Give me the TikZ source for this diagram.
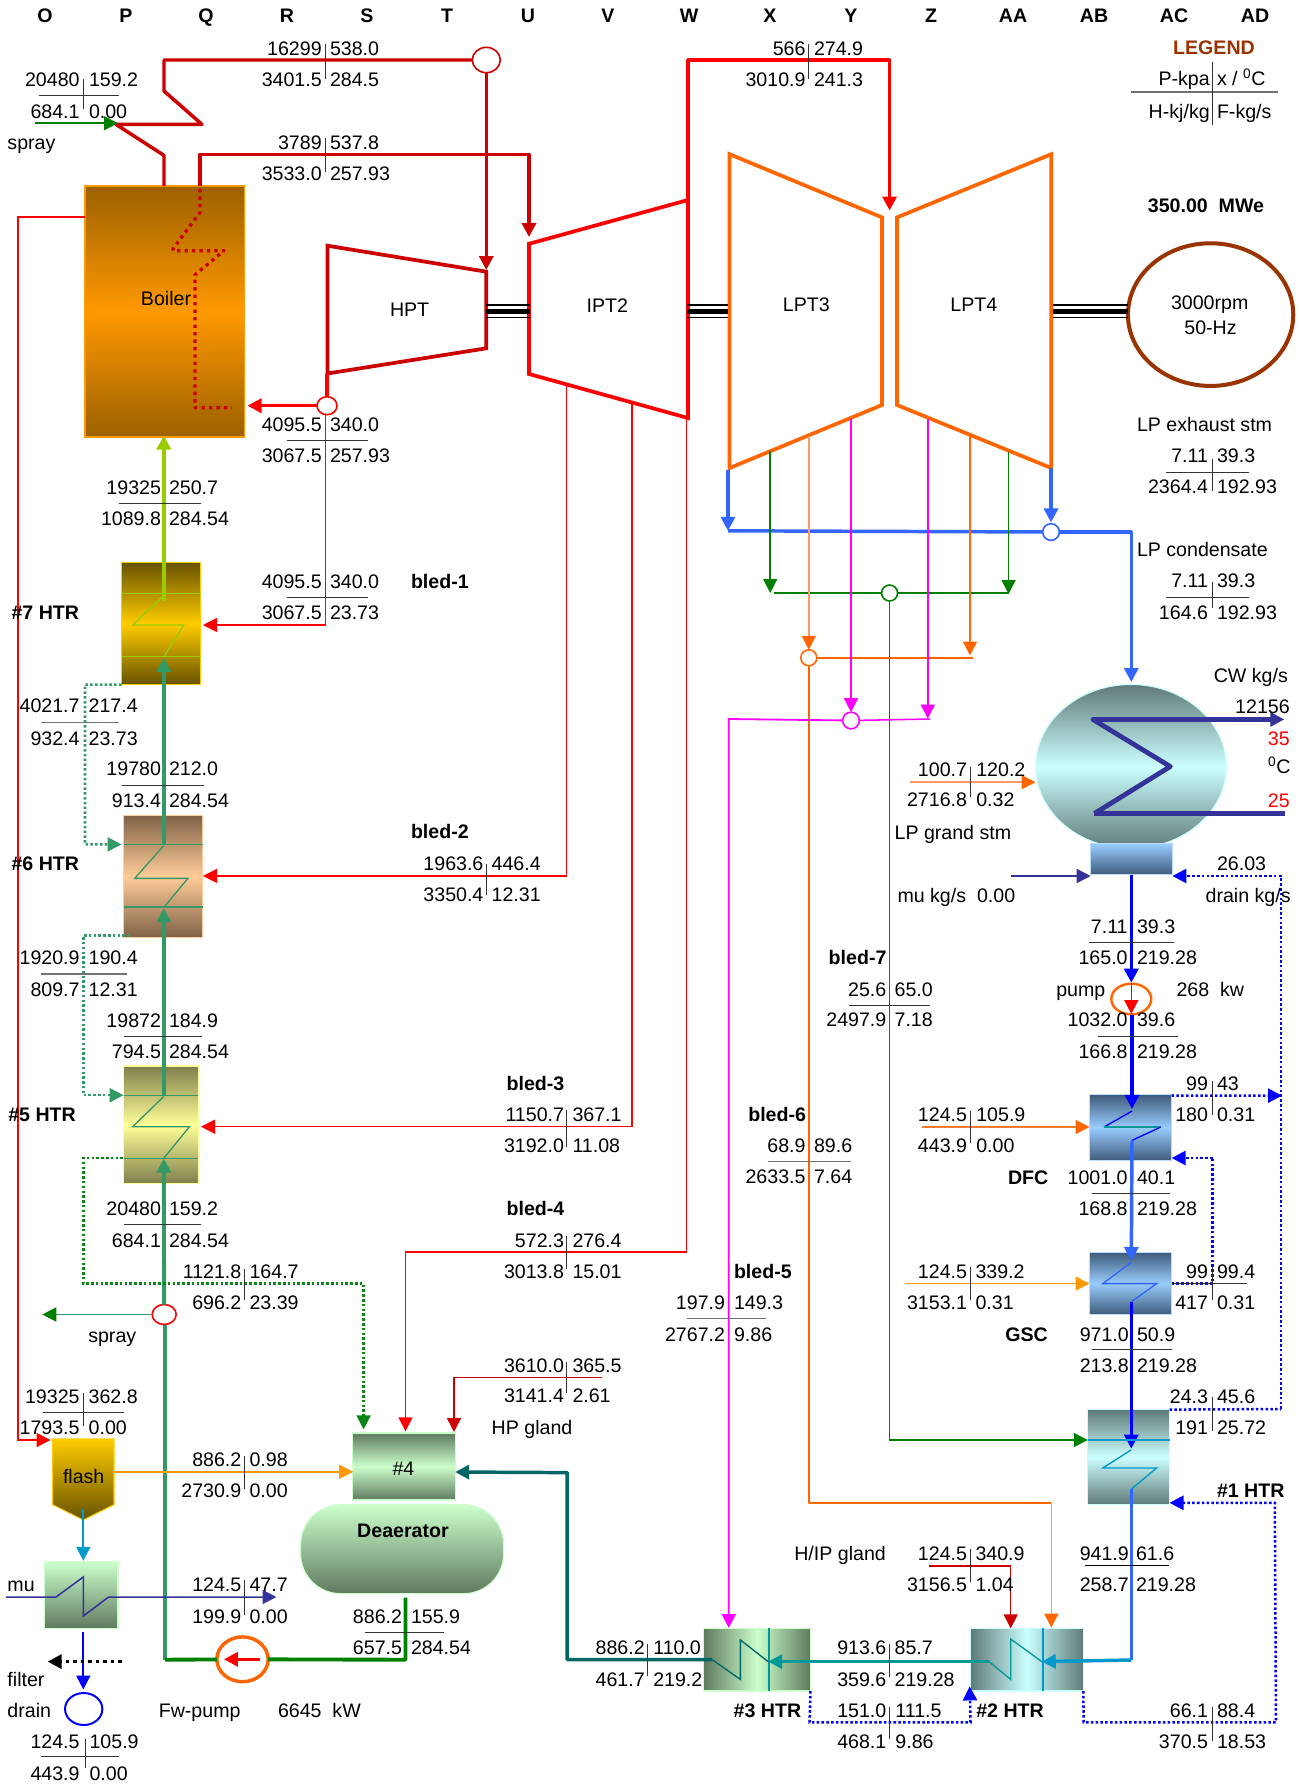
\documentclass[tikz,border=0pt]{standalone}
\usepackage{fontspec}
\setmainfont{Liberation Sans}
\usetikzlibrary{arrows.meta,shapes.geometric}
\definecolor{dred}{HTML}{CC0000}
\definecolor{rd}{HTML}{FF0000}
\definecolor{orng}{HTML}{FF6600}
\definecolor{lorng}{HTML}{FF9966}
\definecolor{amber}{HTML}{FF9900}
\definecolor{lpblue}{HTML}{3366FF}
\definecolor{navy}{HTML}{333399}
\definecolor{blu}{HTML}{0000FF}
\definecolor{grn}{HTML}{008000}
\definecolor{sea}{HTML}{339966}
\definecolor{lime}{HTML}{99CC00}
\definecolor{mag}{HTML}{FF00FF}
\definecolor{teal1}{HTML}{009999}
\definecolor{teal2}{HTML}{006666}
\definecolor{skyb}{HTML}{0099CC}
\definecolor{brn}{HTML}{993300}
\definecolor{cyanl}{HTML}{CCFFFF}
\definecolor{cyand}{HTML}{5F7A78}
\definecolor{grnl}{HTML}{CCFFCC}
\definecolor{grnd}{HTML}{5F7A5F}
\definecolor{bluel}{HTML}{99CCFF}
\definecolor{blued}{HTML}{3F5B7A}
\definecolor{boild}{HTML}{9C6000}
\definecolor{goldl}{HTML}{FFCC00}
\definecolor{goldd}{HTML}{665200}
\definecolor{tanl}{HTML}{FFCC99}
\definecolor{tand}{HTML}{7F6247}
\definecolor{yell}{HTML}{FFFF99}
\definecolor{yeld}{HTML}{7F7F4C}
\tikzset{
  txt/.style={inner sep=0pt,outer sep=0pt,yshift=-5.2pt,font=\fontsize{14.7}{17}\selectfont},
  bld/.style={txt,font=\fontsize{14.7}{17}\selectfont\bfseries},
  rule/.style={draw=black!80,line width=0.7pt},
  grule/.style={draw=black!55,line width=0.9pt},
  box/.style={inner sep=0pt,outer sep=0pt,line width=0.8pt},
  jct/.style={ellipse,draw,fill=white,inner sep=0pt,outer sep=0pt,line width=1.2pt},
  tip/.style={-{Triangle[length=10.5pt,width=10.5pt]}},
  tipc/.style={-{Triangle[length=10.5pt,width=10.5pt,color=#1]}},
  pipe/.style={line width=2.6pt,line join=round},
  mid/.style={line width=1.35pt,line join=round},
  thinl/.style={line width=1.15pt,line join=miter},
  dots/.style={line width=1.9pt,dash pattern=on 1.9pt off 1.7pt},
  coil/.style={line width=1pt,line join=miter},
  turb/.style={line width=2.8pt,line join=miter}
}
\newcommand\eqp[6]{%
  \pgfmathsetmacro\eqw{(#4-#2)*0.75}\pgfmathsetmacro\eqh{(#5-#3)*0.75}%
  \pgfmathsetmacro\eqx{(#2+#4)/2}\pgfmathsetmacro\eqy{(#3+#5)/2}%
  \node[box,minimum width=\eqw pt,minimum height=\eqh pt,#6] (#1) at (\eqx,\eqy) {};}
\newcommand\vb[9]{%
  \node[txt,anchor=base east] (#1a) at (#2,#4) {#6};
  \node[txt,anchor=base west] (#1b) at (#3,#4) {#7};
  \node[txt,anchor=base east] (#1c) at (#2,#5) {#8};
  \node[txt,anchor=base west] (#1d) at (#3,#5) {#9};}
\newcommand\lb[4]{\node[txt,anchor=base west] (#1) at (#2,#3) {#4};}
\newcommand\lbc[4]{\node[txt,anchor=base] (#1) at (#2,#3) {#4};}
\newcommand\bb[4]{\node[bld,anchor=base west] (#1) at (#2,#3) {#4};}
\newcommand\bc[4]{\node[bld,anchor=base] (#1) at (#2,#3) {#4};}
\newcommand\hr[3]{\draw[rule] (#1,#3) -- (#2,#3);}
\newcommand\vr[3]{\draw[rule] (#1,#2) -- (#1,#3);}
\begin{document}
\begin{tikzpicture}[x=0.75pt,y=-0.75pt]
\useasboundingbox (0,0) rectangle (1300,1786);
\fill[white] (0,0) rectangle (1300,1786);

% ---------- equipment
\eqp{boiler}{85}{186}{244.6}{437}{draw=amber,top color=boild,bottom color=boild,middle color=amber}
\eqp{htrseven}{121.5}{562.4}{200.7}{684.7}{draw=goldl,top color=goldd,bottom color=goldd,middle color=goldl}
\eqp{htrsix}{123.5}{815.3}{202.7}{937.6}{draw=tanl,top color=tand,bottom color=tand,middle color=tanl}
\eqp{htrfive}{123.5}{1066}{198.2}{1183.5}{draw=yell,top color=yeld,bottom color=yeld,middle color=yell}
\eqp{boxfour}{352.4}{1433}{455.2}{1500}{draw=grnl,top color=grnd,bottom color=grnd,middle color=grnl}
\eqp{deaer}{300.6}{1504.7}{503.7}{1593.6}{draw=grnl,rounded corners=30pt,top color=grnl,bottom color=grnd}
\eqp{cooler}{44.4}{1562}{118}{1628.4}{draw=grnl,top color=grnl,bottom color=grnd}
\shade[top color=goldl,bottom color=goldd,draw=goldl,line width=0.8pt] (52.7,1439) -- (114,1439) -- (114,1504.7) -- (83.3,1520) -- (52.7,1504.7) -- cycle;
\node[ellipse,box,draw=cyanl,top color=cyand,bottom color=cyand,middle color=cyanl,minimum width=143pt,minimum height=123pt] (cond) at (1131,766.5) {};
\eqp{hotwell}{1090.7}{843.8}{1172.4}{874.8}{draw=bluel!70,top color=bluel,bottom color=blued}
\eqp{dfc}{1089.5}{1094.5}{1171.6}{1160.7}{draw=bluel!70,top color=blued,bottom color=blued,middle color=bluel}
\eqp{gsc}{1089.5}{1252.3}{1171.6}{1314.5}{draw=bluel!70,top color=blued,bottom color=blued,middle color=bluel}
\eqp{htrone}{1087.8}{1409.6}{1169.5}{1504.7}{draw=cyanl,top color=cyand,bottom color=cyand,middle color=cyanl}
\eqp{htrtwo}{970.5}{1628.4}{1083.3}{1691}{draw=cyanl,left color=cyand,right color=cyand,middle color=cyanl}
\eqp{htrthree}{703.9}{1628.4}{810.4}{1691}{draw=grnl,left color=grnd,right color=grnd,middle color=grnl}

% ---------- turbines and generator
\draw[turb,dred] (327.5,245.7) -- (486.3,271.7) -- (486.3,348.3) -- (327.5,373.5) -- cycle;
\draw[turb,rd] (529,243.8) -- (688,200) -- (688,418) -- (529,374) -- cycle;
\draw[turb,orng] (729.6,154.2) -- (882,217.4) -- (882,405) -- (729.6,468) -- cycle;
\draw[turb,orng] (897,217.4) -- (1051.3,154.2) -- (1051.3,468) -- (897,405) -- cycle;
\node[ellipse,draw=brn,line width=3pt,minimum width=124pt,minimum height=107pt,inner sep=0pt,outer sep=0pt] (gen) at (1210.6,314.6) {};

\coordinate (shaONEa) at (486,0); \coordinate (shaONEb) at (530,0);
\coordinate (shaTWOa) at (686.5,0); \coordinate (shaTWOb) at (728,0);
\coordinate (shaTHRa) at (1053,0);
\foreach \yy/\ww in {305/1.5pt,311.5/3.4pt,317.5/1.2pt}{
  \draw[line width=\ww] (shaONEa |- 0,\yy) -- (shaONEb |- 0,\yy);
  \draw[line width=\ww] (shaTWOa |- 0,\yy) -- (shaTWOb |- 0,\yy);
  \draw[line width=\ww] (shaTHRa |- 0,\yy) -- (gen.west |- 0,\yy);
}

% ---------- junctions
\node[jct,draw=dred,minimum width=21pt,minimum height=19pt] (jmain) at (486.3,60) {};
\node[jct,draw=rd,minimum width=15pt,minimum height=13.5pt] (jcold) at (327,405.7) {};
\node[jct,draw=lpblue,minimum width=12.5pt,minimum height=12.5pt] (jlp) at (1051,532) {};
\node[jct,draw=grn,minimum width=12pt,minimum height=12pt] (jgrn) at (889.6,593) {};
\node[jct,draw=orng,minimum width=12pt,minimum height=12pt] (jorg) at (808.8,657.8) {};
\node[jct,draw=mag,minimum width=12.5pt,minimum height=12.5pt] (jmag) at (851,720.5) {};
\node[jct,draw=rd,minimum width=18pt,minimum height=15pt] (jspray) at (164.2,1314.5) {};
\node[jct,draw=orng,line width=1.8pt,fill=none,minimum width=30pt,minimum height=23pt] (cpump) at (1131.3,999) {};
\node[jct,draw=orng,line width=2.6pt,minimum width=38.5pt,minimum height=33.6pt] (fwpump) at (242.5,1659.3) {};
\node[jct,draw=blu,line width=1.5pt,minimum width=28pt,minimum height=24pt] (jdrain) at (83.7,1709) {};

% ---------- named connector ends
\coordinate (bomain) at (164,186); \coordinate (borht) at (200,186);
\coordinate (hptin) at (486.3,270); \coordinate (iptin) at (529,237);
\coordinate (hptout) at (327,373.5); \coordinate (boin) at (247.5,405.7);
\coordinate (lptin) at (889.6,210.5); \coordinate (iptcross) at (688,200);
\coordinate (botube) at (200,189); \coordinate (botubeend) at (232,407.6);
\coordinate (eco) at (163.8,435.5); \coordinate (sevenout) at (163.8,600.6);
\coordinate (sevenin) at (163.8,657.8); \coordinate (sixout) at (163.8,844.8);
\coordinate (sixin) at (163.8,908.2); \coordinate (fiveout) at (163.8,1095.2);
\coordinate (fivein) at (163.8,1158.6);
\coordinate (blone) at (203,625); \coordinate (bltwoS) at (566.7,385); \coordinate (bltwoE) at (203,875.9);
\coordinate (blthrS) at (632,404); \coordinate (blthrE) at (201,1126.7);
\coordinate (blfouS) at (686.5,418); \coordinate (blfouE) at (405.5,1431.3);
\coordinate (hpglS) at (602,1377.5); \coordinate (hpglE) at (454,1432);
\coordinate (boflash) at (85,217); \coordinate (flashin) at (50.6,1440);
\coordinate (flashout) at (114,1471.8); \coordinate (fourin) at (353.2,1471.8);
\coordinate (fwdrain) at (712.2,1659.7); \coordinate (fwdrainE) at (455.2,1472);
\coordinate (daout) at (405.5,1597.5);
\coordinate (sprA) at (34.8,123.2); \coordinate (sprB) at (118,123.2);
\coordinate (sprC) at (42.3,1314.5);
\coordinate (flashb) at (83.3,1508.6); \coordinate (coolt) at (83.3,1560.8);
\coordinate (coolb) at (83.3,1632); \coordinate (draint) at (83.3,1689.5);
\coordinate (filtA) at (121.5,1661.6); \coordinate (filtB) at (47.7,1661.6);
\coordinate (muA) at (5.8,1597); \coordinate (muB) at (276.5,1597);
\coordinate (lpA) at (728,470); \coordinate (lpB) at (728,530.8);
\coordinate (lpC) at (1051,467.7); \coordinate (lpD) at (1051,522.4);
\coordinate (conin) at (1131.3,682);

% ---------- steam pipes
\draw[pipe,dred] (bomain) -- (164,155.4) -- (116,124.4) -- (202,124.4) -- (164,91) -- (164,60) -- (jmain);
\draw[pipe,dred,tip] (jmain) -- (hptin);
\draw[pipe,dred,tip] (borht) -- (200,154.6) -- (529,154.6) -- (iptin);
\draw[dred,line width=2.5pt,line join=round,dash pattern=on 2.5pt off 3.1pt] (botube) -- (200,212.4) -- (173,248.8) -- (173,250.7) -- (224,250.7) -- (195,274.8) -- (195,407.6) -- (botubeend);
\draw[pipe,rd] (hptout) -- (jcold);
\draw[pipe,rd,tip] (jcold) -- (boin);
\draw[thinl,rd,tip] (jcold.south -| 325.5,0) -- (325.5,625) -- (blone);
\draw[pipe,rd,tip] (iptcross) -- (688,60) -- (889.6,60) -- (lptin);
\draw[thinl,rd,tip] (bltwoS) -- (566.7,875.9) -- (bltwoE);
\draw[thinl,rd,tip] (blthrS) -- (632,1126.7) -- (blthrE);
\draw[mid,rd] (blfouS) -- (686.5,1252);
\draw[thinl,rd,tip] (686.5,1252) -- (405.5,1252) -- (blfouE);
\draw[thinl,dred,tip] (hpglS) -- (454,1377.5) -- (hpglE);
\draw[thinl,rd,tip] (boflash) -- (18,217) -- (18,1440) -- (flashin);

% ---------- feedwater train
\draw[line width=2.9pt,lime,tipc=lime] (sevenout) -- (eco);
\draw[line width=2.9pt,sea,tip] (sixout) -- (sevenin);
\draw[line width=2.9pt,sea,tip] (fiveout) -- (sixin);
\draw[line width=2.9pt,sea,tip] (jspray) -- (fivein);
\draw[line width=2.9pt,sea] (jspray.south -| 165,0) -- (165,1659.7);
\draw[line width=2.9pt,grn] (165,1659.7) -- (fwpump);
\draw[line width=2.9pt,grn,line join=round] (fwpump) -- (405.5,1659.7) -- (daout);
\draw[pipe,rd,tip] (fwpump.east -| 260,0) -- (223.9,1659.3);
\draw[mid,sea,tipc=grn] (jspray) -- (sprC);
\draw[thinl,grn,tip] (sprA) -- (sprB);

% heater plates and coils
\foreach \yy in {593.5,656.5} \draw[lime,line width=1pt] (htrseven.west |- 0,\yy) -- (htrseven.east |- 0,\yy);
\draw[lime,coil] (163.8,595.6) -- (132.7,625) -- (183.7,625) -- (163.8,657);
\foreach \yy in {844.4,907} \draw[sea,line width=1pt] (htrsix.west |- 0,\yy) -- (htrsix.east |- 0,\yy);
\draw[sea,coil] (163.8,845.6) -- (134.7,878.4) -- (187.8,878.4) -- (163.8,907.4);
\foreach \yy in {1095.2,1158.2} \draw[sea,line width=1pt] (htrfive.west |- 0,\yy) -- (htrfive.east |- 0,\yy);
\draw[sea,coil] (163.8,1096.4) -- (132.7,1126.7) -- (189.5,1126.7) -- (163.8,1158.2);
\draw[sea,dots,tip] (htrseven.south west) -- (85,684.7) -- (85,844.4) -- (121.5,844.4);
\draw[sea,dots,tip] (129.8,935.6) -- (83.3,935.6) -- (83.3,1095.2) -- (123.5,1095.2);
\draw[grn!80!sea,dots,tip] (123,1158.2) -- (83.3,1158.2) -- (83.3,1283.6) -- (363.6,1283.6) -- (363.6,1429.3);
\draw[thinl,amber!90!lorng,tip] (flashout) -- (fourin);
\draw[line width=1.4pt,skyb,tip] (flashb) -- (coolt);
\draw[line width=1.4pt,blu,tip] (coolb) -- (draint);
\draw[black,line width=2.5pt,dash pattern=on 2.5pt off 3.1pt,tip] (filtA) -- (filtB);
\draw[navy,thinl,tip] (muA) -- (56,1597) -- (83.3,1577) -- (83.3,1616) -- (108.6,1597) -- (muB);
\draw[pipe,teal2,tip] (fwdrain) -- (567.2,1659.7) -- (567.2,1472.6) -- (fwdrainE);

% ---------- LP side
\draw[pipe,lpblue,tip] (lpA) -- (lpB);
\draw[pipe,lpblue,tip] (lpC) -- (lpD);
\draw[pipe,lpblue] (lpB) -- (jlp);
\draw[pipe,lpblue,tip] (jlp) -- (1131.3,532) -- (conin);

\draw[thinl,grn,tip] (770.2,451) -- (770.2,593);
\draw[thinl,grn,tip] (1008.6,452) -- (1008.6,594);
\draw[thinl,grn] (774.4,593) -- (jgrn);
\draw[thinl,grn] (jgrn) -- (1008.6,593);
\draw[thinl,grn,tip] (jgrn) -- (889.6,1440) -- (htrone.west |- 0,1440);
\draw[thinl,lorng,tipc=orng] (808.8,436) -- (jorg.north);
\draw[thinl,orng,tip] (970,436) -- (970,655.5);
\draw[thinl,orng] (jorg) -- (972.5,657.8);
\draw[mid,orng] (jorg) -- (808.8,1502.8) -- (1051.3,1502.8);
\draw[thinl,lorng,tipc=orng] (1051.3,1502.8) -- (1051.3,1627.6);
\draw[thinl,mag,tip] (851,419) -- (jmag.north);
\draw[thinl,mag,tip] (927.8,419) -- (927.8,718.6);
\draw[thinl,mag] (jmag) -- (930,719);
\draw[mid,mag,tip] (jmag) -- (728.8,719) -- (728.8,1628);

% condenser
\draw[navy,line width=3.6pt,tip,line join=round] (1094.4,813.5) -- (1170.3,766.5) -- (1092.8,719.4) -- (1284.3,719.4);
\draw[navy,line width=3.6pt] (1094.4,813.5) -- (1285,813.5);
\draw[thinl,navy,tip] (1010.7,876) -- (hotwell.west |- 0,876);
\draw[thinl,lorng,tipc=orng] (910.4,782.2) -- (1035.6,782.2);
\draw[blu,dots,tip] (1281,1409) -- (1281,876) -- (hotwell.east |- 0,876);
\draw[blu,dots] (htrone.north east) -- (1281,1409);
\draw[pipe,blu,tip] (hotwell.south -| 1131.3,0) -- (1131.3,982.7);
\draw[thinl,rd,tip] (1131.3,982.7) -- (1131.3,1014);
\draw[pipe,blu,tip] (1132,1015) -- (1132,1109);
\draw[blu,dots,tip] (dfc.north east) ++(0,1) -- (1282,1095.6);
\draw[blu,coil] (1132,1111) -- (1104,1127);
\draw[teal1,coil] (1104,1127) -- (1160.8,1127);
\draw[blu,coil] (1160.8,1127) -- (1132,1140.4);
\draw[pipe,lpblue,tip] (1132,1140.4) -- (1131.3,1261);
\draw[orng!60!lorng,thinl,tipc=orng] (922,1127) -- (dfc.west |- 0,1127);
\draw[lpblue,coil] (1131.3,1262.3) -- (1102.8,1283.6) -- (1156.6,1283.6) -- (1131.3,1301.8);
\draw[amber,thinl,tip] (904.6,1283.6) -- (gsc.west |- 0,1283.6);
\draw[blu,dots] (gsc.east |- 0,1283.6) -- (1212.6,1283.6) -- (1212.6,1158);
\draw[blu,dots,tip] (1212.6,1158) -- (dfc.east |- 0,1158);
\draw[pipe,blu,tip] (1131.3,1301.8) -- (1131.3,1448.6);
\draw[skyb,line width=1pt] (htrone.west |- 0,1440) -- (htrone.east |- 0,1440);
\draw[skyb,coil] (1131.3,1449.8) -- (1102.8,1468) -- (1156.6,1468) -- (1131.3,1489);
\draw[pipe,lpblue] (1131.3,1489) -- (1131.3,1660);
\draw[pipe,skyb,tip] (1131.3,1660) -- (1041.8,1661.6);
\draw[blu,dots,tip] (htrtwo.south east) -- (1083.7,1722.3) -- (1276,1722.3) -- (1274.8,1502.8) -- (htrone.east |- 0,1502.8);
\draw[thinl,dred,tip] (929.4,1565.8) -- (1010.7,1565.8) -- (1010.7,1628.4);
\draw[skyb,line width=1pt] (1043,1628.4) -- (1043,1691);
\draw[teal1,coil] (1041.8,1661.6) -- (1010.7,1639) -- (1010.7,1679.4) -- (989,1661.6);
\draw[pipe,teal1,tip] (989,1661.6) -- (768.2,1661.6);
\draw[teal1,line width=1pt] (769,1628.4) -- (769,1691);
\draw[teal2,coil] (768.2,1661.6) -- (740.4,1640) -- (740.4,1679.4) -- (712.2,1659.7);
\draw[blu,dots,tip] (htrthree.south east) -- (809.6,1722.3) -- (970.5,1722.3) -- (969.7,1686.4);

% ---------- value rules
\vr{325.5}{44}{78.5}
\hr{39}{119}{95.3}\vr{83.3}{78.5}{109}
\vr{325.5}{138}{172}
\hr{287}{368}{440.5}
\hr{119}{201}{503}
\hr{287}{368}{597.3}
\draw[grule] (41,722.5) -- (119,722.5);
\hr{121.5}{204}{785.5}
\vr{486.3}{864}{895}
\draw[grule] (41,974) -- (127,974);
\hr{123.5}{202}{1036}
\vr{566.7}{1110}{1147}
\hr{123.5}{200.7}{1224.5}
\vr{566.7}{1236}{1269}
\vr{244.6}{1269}{1300}
\vr{566.7}{1361.7}{1392.6}
\hr{43}{123.5}{1412.7}\vr{83.3}{1393.4}{1425.8}
\vr{244.6}{1456.4}{1488.5}
\vr{244.6}{1580}{1615}
\hr{365}{444.4}{1632.3}
\vr{647.6}{1644}{1676}
\hr{41}{119}{1756}\vr{85}{1738.6}{1768.3}
\vr{808.8}{44}{78.5}
\draw[grule] (1131,92) -- (1277.7,92);
\draw[rule] (1212,62.4) -- (1212,125);
\hr{1166}{1248.7}{472}\vr{1212}{459}{491}
\hr{1166}{1248.7}{597}\vr{1212}{582}{607.6}
\vr{970.5}{766.5}{797}
\hr{1089}{1174}{942}
\hr{849}{930}{1005}
\hr{1097.8}{1177.8}{1036}
\vr{1212}{1081.4}{1114.7}
\vr{970.5}{1111}{1143.4}
\draw[grule] (768,1161.8) -- (851,1161.8);
\hr{1091.5}{1170}{1193.5}
\vr{970.5}{1267}{1300}
\hr{1172}{1247}{1283.6}\vr{1212}{1267}{1300}
\draw[grule] (686.5,1318.4) -- (766,1318.4);
\hr{1091.5}{1171.6}{1349.7}
\vr{1212}{1396.5}{1430.5}
\draw[line width=1pt] (1085.3,1565.8) -- (1169,1565.8);
\vr{970.5}{1549}{1582}
\vr{1212}{1706.5}{1741}
\vr{889.6}{1644}{1676.7}
\vr{889.6}{1706.5}{1738.6}

% ---------- column letters
\foreach \nm/\cx in {O/45,P/126,Q/206,R/287,S/367,T/447,U/528,V/608,W/689,X/770,Y/851,Z/931,AA/1013,AB/1094,AC/1174,AD/1255}{
  \node[bld,anchor=base] (col\nm) at (\cx,16) {\nm};
}

% ---------- equipment labels
\lbc{tBoiler}{166}{298.5}{Boiler}
\lbc{tHPT}{409.6}{310}{HPT}
\lbc{tIPT}{607.4}{306}{IPT2}
\lbc{tLPa}{806.3}{305}{LPT3}
\lbc{tLPb}{973.8}{305}{LPT4}
\lbc{tGenA}{1209.7}{303}{3000rpm}
\lbc{tGenB}{1210.5}{327.6}{50-Hz}
\lbc{tFlash}{83.7}{1476.5}{flash}
\lbc{tFour}{403.4}{1469}{\#4}
\bc{tDea}{403}{1531}{Deaerator}
\bc{tLeg}{1214}{48}{\textcolor{brn}{LEGEND}}
\bc{tMW}{1206}{205.5}{350.00~~MWe}

\bb{tBa}{411}{581.5}{bled-1}
\bb{tBb}{411}{832}{bled-2}
\bb{tBc}{506.6}{1083.6}{bled-3}
\bb{tBd}{506.6}{1208.2}{bled-4}
\bb{tBe}{734}{1271.6}{bled-5}
\bb{tBf}{748.3}{1114.3}{bled-6}
\bb{tBg}{828.7}{957.4}{bled-7}
\bb{tHs}{11.6}{612.2}{\#7 HTR}
\bb{tHx}{11.6}{863.4}{\#6 HTR}
\bb{tHv}{8.3}{1114.3}{\#5 HTR}
\bb{tHa}{1217}{1490.4}{\#1 HTR}
\bb{tHb}{976.3}{1710.7}{\#2 HTR}
\bb{tHc}{733.7}{1710.7}{\#3 HTR}
\bb{tDFC}{1008}{1178}{DFC}
\bb{tGSC}{1005.3}{1334.6}{GSC}

\lb{tSprA}{7.5}{143}{spray}
\lb{tSprB}{88.3}{1335.4}{spray}
\lb{tHPg}{491.7}{1428}{HP gland}
\lb{tMu}{7.5}{1584.7}{mu}
\lb{tFil}{7.5}{1679.4}{filter}
\lb{tDr}{7.5}{1710.7}{drain}
\lb{tFw}{158.8}{1710.7}{Fw-pump}
\lb{tFwK}{278}{1710.7}{6645~~kW}
\lb{tExh}{1137}{424.8}{LP exhaust stm}
\lb{tCon}{1137}{550}{LP condensate}
\lb{tCW}{1213.8}{675.4}{CW kg/s}
\node[txt,anchor=base east] (tCWf) at (1289.7,706.4) {12156};
\node[txt,anchor=base east,text=rd] (tCWh) at (1289.7,738.5) {35};
\node[txt,anchor=base east] (tCWu) at (1290.5,766.5) {\textsuperscript{0}C};
\node[txt,anchor=base east,text=rd] (tCWc) at (1289.7,800.5) {25};
\lb{tGr}{894.6}{832.3}{LP grand stm}
\lb{tMuF}{897.5}{895.4}{mu kg/s~~0.00}
\lbc{tDrV}{1241.6}{863.3}{26.03}
\lb{tDrK}{1205.6}{895.4}{drain kg/s}
\lb{tPu}{1056.3}{989.6}{pump}
\lb{tPuK}{1176.5}{989.6}{268~~kw}
\lb{tHIP}{794.3}{1553.4}{H/IP gland}

% ---------- value blocks
\vb{b01}{321.7}{330}{48.6}{79.6}{16299}{538.0}{3401.5}{284.5}
\vb{b02}{79.6}{89}{79.6}{111.4}{20480}{159.2}{684.1}{0.00}
\vb{b03}{321.7}{330}{142.4}{173.4}{3789}{537.8}{3533.0}{257.93}
\vb{b04}{321.7}{330}{424.4}{456}{4095.5}{340.0}{3067.5}{257.93}
\vb{b05}{161}{169}{487.6}{518.6}{19325}{250.7}{1089.8}{284.54}
\vb{b06}{321.7}{330}{581.5}{612.2}{4095.5}{340.0}{3067.5}{23.73}
\vb{b07}{79.6}{88.7}{706}{738.6}{4021.7}{217.4}{932.4}{23.73}
\vb{b08}{161}{169}{769}{800.4}{19780}{212.0}{913.4}{284.54}
\vb{b09}{483.4}{491.7}{864}{895}{1963.6}{446.4}{3350.4}{12.31}
\vb{b10}{79.6}{88.7}{957.5}{989.5}{1920.9}{190.4}{809.7}{12.31}
\vb{b11}{161}{169}{1020.6}{1051.7}{19872}{184.9}{794.5}{284.54}
\vb{b12}{564}{572.5}{1114.7}{1145.8}{1150.7}{367.1}{3192.0}{11.08}
\vb{b13}{161}{169}{1208.2}{1240.3}{20480}{159.2}{684.1}{284.54}
\vb{b14}{564}{572.5}{1240.3}{1271.6}{572.3}{276.4}{3013.8}{15.01}
\vb{b15}{241.3}{249.6}{1271.6}{1302.5}{1121.8}{164.7}{696.2}{23.39}
\vb{b16}{564}{572.5}{1365.5}{1396}{3610.0}{365.5}{3141.4}{2.61}
\vb{b17}{79.6}{88.7}{1396.5}{1428}{19325}{362.8}{1793.5}{0.00}
\vb{b18}{241.3}{249.6}{1459.5}{1490.4}{886.2}{0.98}{2730.9}{0.00}
\vb{b19}{241.3}{249.6}{1584.3}{1616.8}{124.5}{47.7}{199.9}{0.00}
\vb{b20}{402}{411}{1616.8}{1647.3}{886.2}{155.9}{657.5}{284.54}
\vb{b21}{644.7}{653.3}{1647.3}{1679.4}{886.2}{110.0}{461.7}{219.2}
\vb{b22}{79.6}{89.6}{1741.7}{1773.3}{124.5}{105.9}{443.9}{0.00}
\vb{b23}{805.5}{814}{48.6}{79.6}{566}{274.9}{3010.9}{241.3}
\vb{leg}{1209.7}{1217}{78.5}{111.4}{P-kpa}{x / \textsuperscript{0}C}{H-kj/kg}{F-kg/s}
\vb{b24}{1208}{1217}{456}{487}{7.11}{39.3}{2364.4}{192.93}
\vb{b25}{1208}{1217}{581}{612.6}{7.11}{39.3}{164.6}{192.93}
\vb{b26}{967}{976.3}{769.5}{800}{100.7}{120.2}{2716.8}{0.32}
\vb{b27}{1127.6}{1137}{926.4}{957.4}{7.11}{39.3}{165.0}{219.28}
\vb{b28}{886.3}{894.6}{989.6}{1020}{25.6}{65.0}{2497.9}{7.18}
\vb{b29}{1127.6}{1137}{1020}{1051.6}{1032.0}{39.6}{166.8}{219.28}
\vb{b30}{1208}{1217}{1083.7}{1114.7}{99}{43}{180}{0.31}
\vb{b31}{967}{976.3}{1114.7}{1145.3}{124.5}{105.9}{443.9}{0.00}
\vb{b32}{805.5}{814}{1145.3}{1177}{68.9}{89.6}{2633.5}{7.64}
\vb{b33}{1127.6}{1137}{1177.5}{1208.6}{1001.0}{40.1}{168.8}{219.28}
\vb{b34}{967}{975.5}{1271.6}{1302.5}{124.5}{339.2}{3153.1}{0.31}
\vb{b35}{1208}{1217}{1271.6}{1302.5}{99}{99.4}{417}{0.31}
\vb{b36}{725}{734}{1302.5}{1334.6}{197.9}{149.3}{2767.2}{9.86}
\vb{b37}{1128.8}{1137}{1334.6}{1365.5}{971.0}{50.9}{213.8}{219.28}
\vb{b38}{1208}{1217}{1396.5}{1428}{24.3}{45.6}{191}{25.72}
\vb{b39}{1128.8}{1136}{1553.4}{1584.3}{941.9}{61.6}{258.7}{219.28}
\vb{b40}{967}{975.5}{1553.4}{1584.3}{124.5}{340.9}{3156.5}{1.04}
\vb{b41}{1208}{1217}{1710.7}{1741.7}{66.1}{88.4}{370.5}{18.53}
\vb{b42}{886.3}{894.6}{1647.3}{1679.4}{913.6}{85.7}{359.6}{219.28}
\vb{b43}{886.3}{895.4}{1710.7}{1741.7}{151.0}{111.5}{468.1}{9.86}
\end{tikzpicture}
\end{document}
